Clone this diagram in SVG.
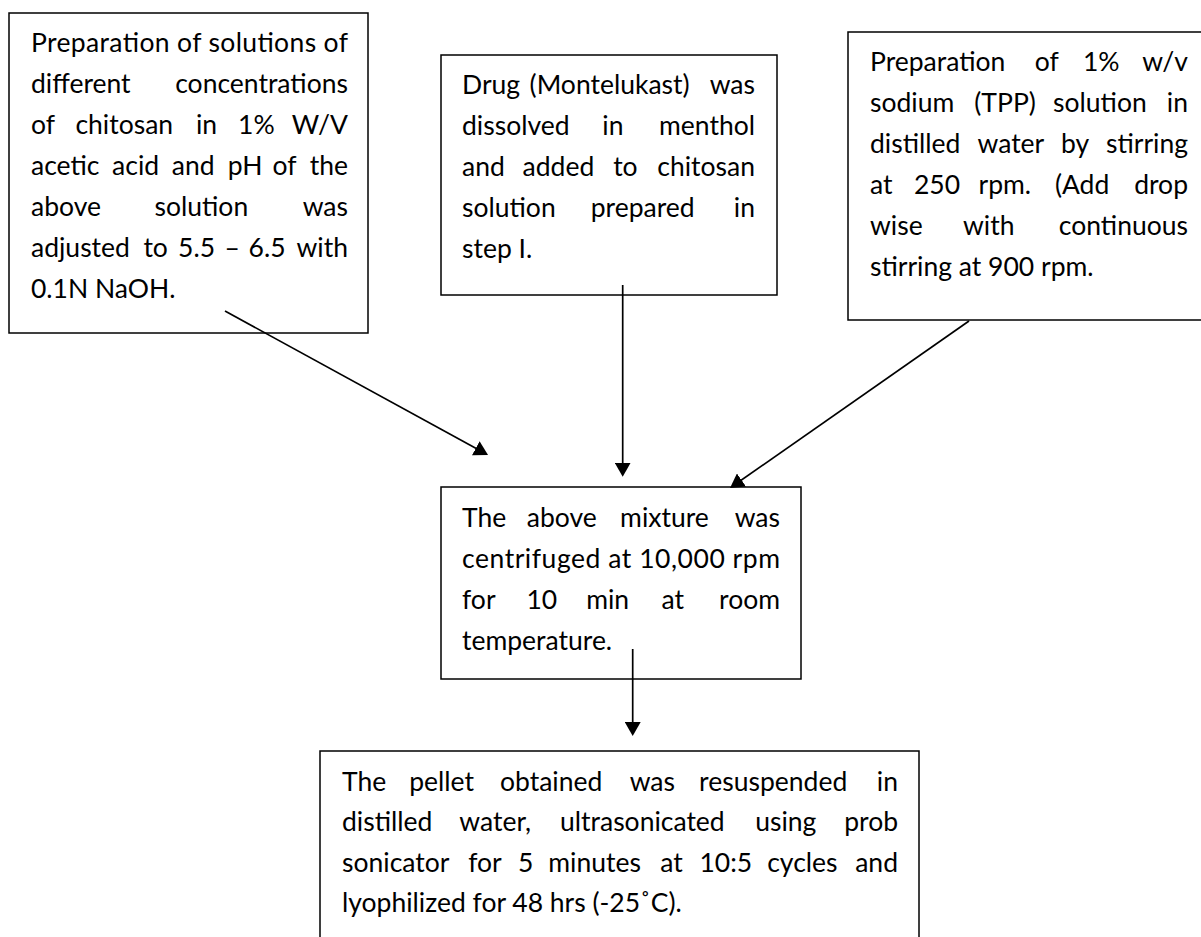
<svg xmlns="http://www.w3.org/2000/svg" width="1201" height="937" viewBox="0 0 1201 937">
<style>
.t{font-family:Lato,Carlito,"Liberation Sans",sans-serif;font-size:26.5px;fill:#000}
.e{text-anchor:end}
.box{fill:#fff;stroke:#000;stroke-width:1.5}
.conn{stroke:#000;stroke-width:1.7;fill:none;marker-end:url(#ah)}
</style>
<defs>
<marker id="ah" markerUnits="userSpaceOnUse" viewBox="0 0 14 16" markerWidth="14" markerHeight="16" refX="11" refY="8" orient="auto">
<path d="M0,0 L14,8 L0,16 Z" fill="#000"/>
</marker>
</defs>
<rect width="1201" height="937" fill="#fff"/>

<g id="node-chitosan">
<rect class="box" x="9" y="13" width="359" height="320"/>
<text class="t" x="31" y="52" textLength="317" lengthAdjust="spacing">Preparation of solutions of</text>
<text class="t" y="93"><tspan x="31">different</tspan><tspan class="e" x="348">concentrations</tspan></text>
<text class="t" y="134"><tspan x="31">of</tspan><tspan x="75.4">chitosan</tspan><tspan x="196">in</tspan><tspan x="238.1">1%</tspan><tspan class="e" x="348">W/V</tspan></text>
<text class="t" y="175"><tspan x="31">acetic</tspan><tspan x="112.1">acid</tspan><tspan x="171.8">and</tspan><tspan x="227.8">pH</tspan><tspan x="272.6">of</tspan><tspan class="e" x="348">the</tspan></text>
<text class="t" y="216"><tspan x="31">above</tspan><tspan x="154.5">solution</tspan><tspan class="e" x="348">was</tspan></text>
<text class="t" y="257"><tspan x="31">adjusted</tspan><tspan x="143.4">to</tspan><tspan x="178.1">5.5</tspan><tspan x="224.6">–</tspan><tspan x="248.6">6.5</tspan><tspan class="e" x="348">with</tspan></text>
<text class="t" x="31" y="298">0.1N NaOH.</text>
</g>

<g id="node-drug">
<rect class="box" x="441" y="55" width="336" height="240"/>
<text class="t" y="94"><tspan x="462">Drug</tspan><tspan x="529.6">(Montelukast)</tspan><tspan class="e" x="755">was</tspan></text>
<text class="t" y="135"><tspan x="462">dissolved</tspan><tspan x="602.3">in</tspan><tspan class="e" x="755">menthol</tspan></text>
<text class="t" y="176"><tspan x="462">and</tspan><tspan x="522.6">added</tspan><tspan x="613.2">to</tspan><tspan class="e" x="755">chitosan</tspan></text>
<text class="t" y="217"><tspan x="462">solution</tspan><tspan x="590.7">prepared</tspan><tspan class="e" x="755">in</tspan></text>
<text class="t" x="462" y="258">step I.</text>
</g>

<g id="node-tpp">
<rect class="box" x="848" y="32" width="400" height="288"/>
<text class="t" y="71"><tspan x="870">Preparation</tspan><tspan x="1034.8">of</tspan><tspan x="1083">1%</tspan><tspan class="e" x="1188">w/v</tspan></text>
<text class="t" y="112"><tspan x="870">sodium</tspan><tspan x="974.3">(TPP)</tspan><tspan x="1053.1">solution</tspan><tspan class="e" x="1188">in</tspan></text>
<text class="t" y="153"><tspan x="870">distilled</tspan><tspan x="977.5">water</tspan><tspan x="1061.1">by</tspan><tspan class="e" x="1188">stirring</tspan></text>
<text class="t" y="194"><tspan x="870">at</tspan><tspan x="913.9">250</tspan><tspan x="978.5">rpm.</tspan><tspan x="1054.9">(Add</tspan><tspan class="e" x="1188">drop</tspan></text>
<text class="t" y="235"><tspan x="870">wise</tspan><tspan x="963">with</tspan><tspan class="e" x="1188">continuous</tspan></text>
<text class="t" x="870" y="276">stirring at 900 rpm.</text>
</g>

<g id="node-centrifuge">
<rect class="box" x="441" y="487" width="360" height="192"/>
<text class="t" y="527"><tspan x="462">The</tspan><tspan x="526.8">above</tspan><tspan x="620.1">mixture</tspan><tspan class="e" x="780">was</tspan></text>
<text class="t" x="462" y="568" textLength="318" lengthAdjust="spacing">centrifuged at 10,000 rpm</text>
<text class="t" y="609"><tspan x="462">for</tspan><tspan x="526.5">10</tspan><tspan x="586.2">min</tspan><tspan x="661.6">at</tspan><tspan class="e" x="780">room</tspan></text>
<text class="t" x="462" y="650">temperature.</text>
</g>

<g id="node-pellet">
<rect class="box" x="320" y="751" width="599" height="250"/>
<text class="t" y="791"><tspan x="342">The</tspan><tspan x="409.2">pellet</tspan><tspan x="500">obtained</tspan><tspan x="629.7">was</tspan><tspan x="699.1">resuspended</tspan><tspan class="e" x="898">in</tspan></text>
<text class="t" y="831"><tspan x="342">distilled</tspan><tspan x="459.3">water,</tspan><tspan x="560">ultrasonicated</tspan><tspan x="755.2">using</tspan><tspan class="e" x="898">prob</tspan></text>
<text class="t" y="872"><tspan x="342">sonicator</tspan><tspan x="468.2">for</tspan><tspan x="518.1">5</tspan><tspan x="548.3">minutes</tspan><tspan x="660.3">at</tspan><tspan x="699.5">10:5</tspan><tspan x="767.2">cycles</tspan><tspan class="e" x="898">and</tspan></text>
<text class="t" x="342" y="912">lyophilized for 48 hrs (-25˚C).</text>
</g>

<g id="connectors">
<line class="conn" x1="225" y1="311" x2="485.4" y2="453.6"/>
<line class="conn" x1="622.7" y1="285" x2="622.7" y2="473.7"/>
<line class="conn" x1="969" y1="321" x2="732.5" y2="486.3"/>
<line class="conn" x1="632.7" y1="649" x2="632.7" y2="733"/>
</g>
</svg>
